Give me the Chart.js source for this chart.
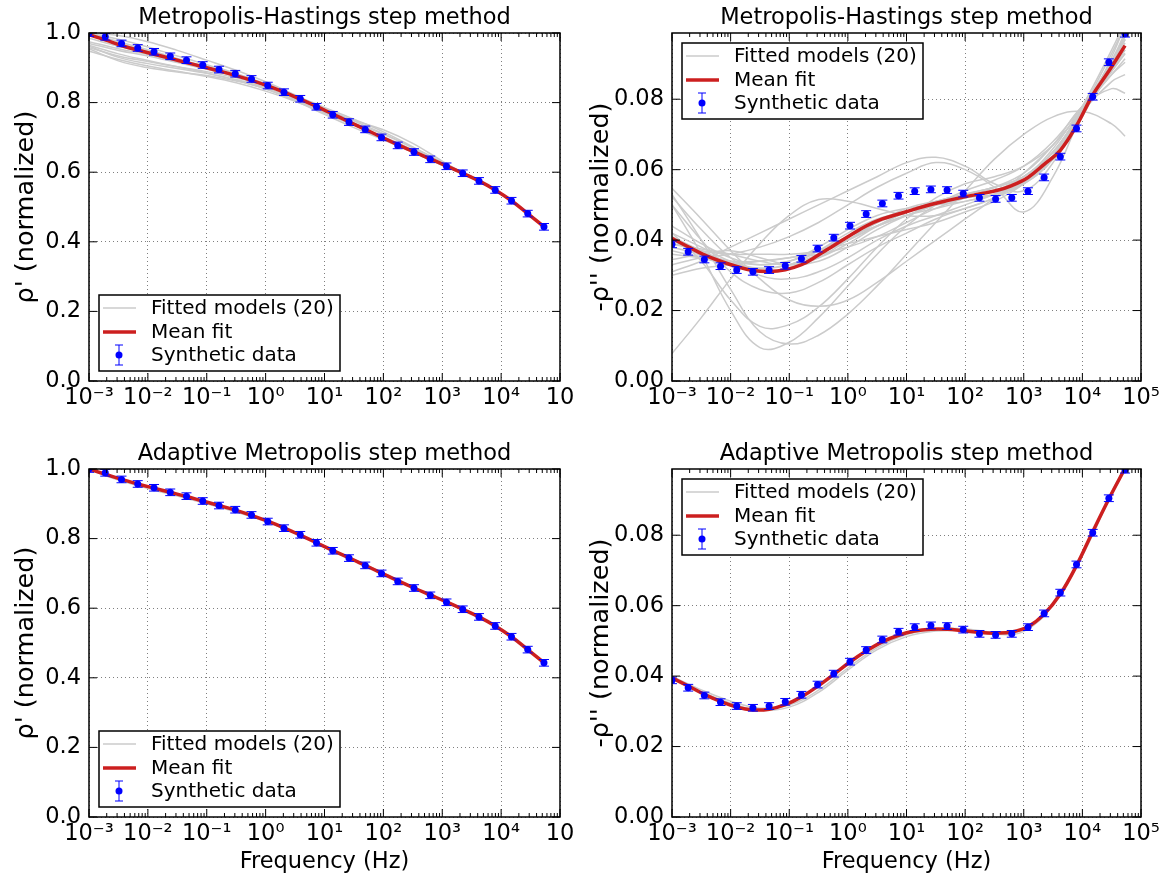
<!DOCTYPE html>
<html>
<head>
<meta charset="utf-8">
<script src="https://cdn.jsdelivr.net/npm/chart.js@4.4.1/dist/chart.umd.min.js"></script>
<style>
  body { margin: 0; background: #fff; }
  #wrap { position: relative; width: 1168px; height: 880px; overflow: hidden; }
  #wrap canvas { position: absolute; }
</style>
</head>
<body>
<div id="wrap">
  <canvas id="mhReal" width="584" height="436" style="left:0;top:0"></canvas>
  <canvas id="mhImag" width="584" height="436" style="left:584px;top:0"></canvas>
  <canvas id="amReal" width="584" height="444" style="left:0;top:436px"></canvas>
  <canvas id="amImag" width="584" height="444" style="left:584px;top:436px"></canvas>
</div>
<script>
// frequencies of the synthetic data (Hz)
const freq = [0.001, 0.001888, 0.003565, 0.00673, 0.01271, 0.02399, 0.04529, 0.08551, 0.1614, 0.3048,
  0.5754, 1.086, 2.051, 3.873, 7.311, 13.8, 26.06, 49.2, 92.9, 175.4,
  331.1, 625.2, 1180, 2228, 4207, 7943, 15000, 28310, 53460];

// synthetic data, normalized
const rhoReal = [1.000, 0.989, 0.970, 0.957, 0.946, 0.933, 0.922, 0.908, 0.895, 0.883,
  0.868, 0.849, 0.830, 0.811, 0.788, 0.765, 0.744, 0.723, 0.700, 0.677,
  0.658, 0.637, 0.617, 0.597, 0.575, 0.549, 0.518, 0.481, 0.443];
const rhoImag = [0.0388, 0.0367, 0.0345, 0.0326, 0.0315, 0.0310, 0.0315, 0.0327, 0.0347, 0.0376,
  0.0407, 0.0441, 0.0474, 0.0504, 0.0526, 0.0539, 0.0544, 0.0542, 0.0532, 0.0520,
  0.0517, 0.0520, 0.0539, 0.0578, 0.0637, 0.0717, 0.0807, 0.0905, 0.0986];
const errReal = 0.0095;
const errImag = 0.00095;

// mean fits at the data frequencies
const mhMeanReal = [0.995, 0.980, 0.964, 0.951, 0.939, 0.927, 0.915, 0.903, 0.891, 0.878,
  0.864, 0.848, 0.830, 0.810, 0.789, 0.767, 0.745, 0.723, 0.701, 0.679,
  0.659, 0.638, 0.618, 0.597, 0.575, 0.549, 0.518, 0.481, 0.443];
const mhMeanImag = [0.0405, 0.0381, 0.0358, 0.0340, 0.0325, 0.0314, 0.0311, 0.0316, 0.0330, 0.0356,
  0.0385, 0.0413, 0.0440, 0.0460, 0.0474, 0.0488, 0.0501, 0.0512, 0.0522, 0.0531,
  0.0540, 0.0555, 0.0578, 0.0615, 0.0655, 0.0725, 0.0812, 0.0880, 0.0952];
const amMeanReal = [1.000, 0.985, 0.970, 0.957, 0.945, 0.933, 0.921, 0.908, 0.895, 0.882,
  0.867, 0.850, 0.831, 0.810, 0.788, 0.766, 0.745, 0.723, 0.701, 0.679,
  0.658, 0.638, 0.618, 0.597, 0.575, 0.549, 0.518, 0.481, 0.443];
const amMeanImag = [0.0395, 0.0372, 0.0348, 0.0328, 0.0312, 0.0304, 0.0306, 0.0319, 0.0341, 0.0371,
  0.0405, 0.0440, 0.0471, 0.0497, 0.0516, 0.0528, 0.0533, 0.0533, 0.0529, 0.0524,
  0.0522, 0.0525, 0.0540, 0.0576, 0.0633, 0.0714, 0.0810, 0.0903, 0.0990];

// fitted models, sampled at these frequencies
const modelFreq = [0.001, 0.003162, 0.01, 0.03162, 0.1, 0.3162, 1, 3.162, 10, 31.62,
  100, 316.2, 1000, 3162, 10000, 31620, 53460];

const mhModelsReal = [
  [1.000, 0.982, 0.960, 0.934, 0.909, 0.884, 0.854, 0.818, 0.779, 0.740, 0.700, 0.661, 0.623, 0.585, 0.539, 0.475, 0.443],
  [0.958, 0.934, 0.918, 0.903, 0.889, 0.871, 0.849, 0.820, 0.786, 0.752, 0.716, 0.673, 0.628, 0.586, 0.538, 0.475, 0.443],
  [0.948, 0.924, 0.905, 0.890, 0.875, 0.857, 0.833, 0.804, 0.770, 0.735, 0.700, 0.661, 0.621, 0.583, 0.538, 0.476, 0.444],
  [0.962, 0.930, 0.912, 0.898, 0.884, 0.866, 0.843, 0.812, 0.779, 0.749, 0.722, 0.683, 0.632, 0.584, 0.537, 0.474, 0.443],
  [0.970, 0.950, 0.934, 0.915, 0.896, 0.875, 0.850, 0.815, 0.776, 0.741, 0.709, 0.671, 0.627, 0.586, 0.539, 0.475, 0.443],
  [0.955, 0.920, 0.900, 0.888, 0.878, 0.862, 0.840, 0.808, 0.771, 0.736, 0.702, 0.665, 0.625, 0.587, 0.540, 0.477, 0.445],
  [0.985, 0.962, 0.942, 0.920, 0.899, 0.877, 0.851, 0.819, 0.783, 0.747, 0.711, 0.670, 0.626, 0.585, 0.538, 0.475, 0.443],
  [0.993, 0.970, 0.948, 0.924, 0.901, 0.878, 0.851, 0.816, 0.776, 0.737, 0.698, 0.660, 0.623, 0.585, 0.539, 0.475, 0.443],
  [0.975, 0.955, 0.938, 0.918, 0.897, 0.876, 0.849, 0.814, 0.775, 0.737, 0.699, 0.662, 0.624, 0.586, 0.539, 0.476, 0.444],
  [1.000, 0.975, 0.952, 0.927, 0.903, 0.880, 0.852, 0.817, 0.778, 0.739, 0.699, 0.660, 0.622, 0.585, 0.539, 0.475, 0.443],
  [1.000, 0.993, 0.975, 0.950, 0.922, 0.893, 0.860, 0.822, 0.781, 0.740, 0.700, 0.660, 0.622, 0.585, 0.539, 0.475, 0.443],
  [0.965, 0.940, 0.921, 0.903, 0.885, 0.864, 0.839, 0.805, 0.766, 0.728, 0.693, 0.657, 0.620, 0.584, 0.538, 0.475, 0.443]
];
const mhModelsImag = [
  [0.0547, 0.046, 0.037, 0.029, 0.023, 0.0212, 0.023, 0.028, 0.034, 0.040, 0.046, 0.052, 0.059, 0.067, 0.077, 0.090, 0.098],
  [0.053, 0.040, 0.026, 0.014, 0.0105, 0.013, 0.019, 0.027, 0.036, 0.045, 0.054, 0.063, 0.070, 0.075, 0.0765, 0.073, 0.0695],
  [0.0078, 0.018, 0.029, 0.039, 0.047, 0.0515, 0.051, 0.049, 0.047, 0.047, 0.049, 0.052, 0.057, 0.065, 0.077, 0.091, 0.099],
  [0.050, 0.036, 0.020, 0.0095, 0.011, 0.018, 0.027, 0.036, 0.044, 0.050, 0.054, 0.057, 0.061, 0.068, 0.078, 0.088, 0.093],
  [0.042, 0.034, 0.023, 0.0155, 0.016, 0.021, 0.029, 0.038, 0.046, 0.052, 0.056, 0.058, 0.061, 0.067, 0.077, 0.087, 0.0905],
  [0.031, 0.034, 0.038, 0.042, 0.046, 0.050, 0.054, 0.058, 0.062, 0.0635, 0.061, 0.056, 0.054, 0.062, 0.077, 0.093, 0.101],
  [0.033, 0.035, 0.036, 0.038, 0.041, 0.045, 0.050, 0.055, 0.059, 0.062, 0.060, 0.055, 0.048, 0.058, 0.076, 0.090, 0.097],
  [0.036, 0.035, 0.034, 0.034, 0.035, 0.037, 0.039, 0.041, 0.043, 0.045, 0.048, 0.051, 0.056, 0.064, 0.077, 0.087, 0.0915],
  [0.039, 0.037, 0.036, 0.036, 0.036, 0.037, 0.040, 0.044, 0.048, 0.051, 0.053, 0.055, 0.058, 0.065, 0.0765, 0.085, 0.087],
  [0.030, 0.032, 0.033, 0.034, 0.035, 0.036, 0.038, 0.041, 0.045, 0.049, 0.052, 0.055, 0.059, 0.067, 0.078, 0.083, 0.0817],
  [0.0345, 0.036, 0.037, 0.035, 0.033, 0.034, 0.038, 0.043, 0.047, 0.050, 0.052, 0.054, 0.057, 0.063, 0.075, 0.092, 0.101],
  [0.0523, 0.043, 0.035, 0.030, 0.029, 0.031, 0.035, 0.040, 0.044, 0.047, 0.050, 0.053, 0.057, 0.064, 0.077, 0.089, 0.095],
  [0.041, 0.037, 0.0335, 0.0315, 0.032, 0.036, 0.041, 0.045, 0.048, 0.050, 0.052, 0.054, 0.058, 0.065, 0.076, 0.089, 0.096],
  [0.038, 0.036, 0.034, 0.033, 0.034, 0.037, 0.041, 0.044, 0.047, 0.049, 0.051, 0.053, 0.0565, 0.063, 0.0755, 0.090, 0.097],
  [0.050, 0.040, 0.031, 0.026, 0.025, 0.028, 0.033, 0.038, 0.042, 0.046, 0.049, 0.052, 0.056, 0.064, 0.078, 0.094, 0.102],
  [0.040, 0.036, 0.033, 0.031, 0.032, 0.035, 0.040, 0.045, 0.049, 0.051, 0.052, 0.054, 0.057, 0.064, 0.076, 0.088, 0.094],
  [0.042, 0.038, 0.034, 0.032, 0.033, 0.037, 0.042, 0.046, 0.048, 0.050, 0.052, 0.053, 0.056, 0.063, 0.077, 0.091, 0.098],
  [0.037, 0.035, 0.033, 0.032, 0.033, 0.036, 0.040, 0.044, 0.047, 0.050, 0.053, 0.055, 0.058, 0.065, 0.077, 0.088, 0.093],
  [0.044, 0.039, 0.035, 0.033, 0.034, 0.038, 0.043, 0.047, 0.049, 0.050, 0.051, 0.053, 0.056, 0.063, 0.076, 0.090, 0.097],
  [0.039, 0.0375, 0.036, 0.034, 0.033, 0.035, 0.039, 0.044, 0.048, 0.051, 0.053, 0.055, 0.058, 0.066, 0.078, 0.089, 0.094]
];
const amModelsReal = [
  [1.000, 0.972, 0.948, 0.925, 0.903, 0.879, 0.852, 0.818, 0.779, 0.740, 0.701, 0.661, 0.624, 0.586, 0.541, 0.476, 0.444],
  [0.998, 0.968, 0.944, 0.922, 0.900, 0.876, 0.849, 0.815, 0.776, 0.737, 0.698, 0.659, 0.622, 0.584, 0.539, 0.474, 0.442]
];
const amModelsImag = [
  [0.0399, 0.0361, 0.0329, 0.0309, 0.0318, 0.0360, 0.0423, 0.0481, 0.0518, 0.0534, 0.0534, 0.0525, 0.0533, 0.0608, 0.0748, 0.0923, 0.0994],
  [0.0391, 0.0355, 0.0323, 0.0303, 0.0312, 0.0354, 0.0417, 0.0475, 0.0512, 0.0528, 0.0528, 0.0519, 0.0527, 0.0602, 0.0742, 0.0917, 0.0986]
];

// axis ticks
const xTicks = [1e-3, 1e-2, 1e-1, 1e0, 1e1, 1e2, 1e3, 1e4, 1e5];
const xLabelsLeft = ['10⁻³', '10⁻²', '10⁻¹', '10⁰', '10¹', '10²', '10³', '10⁴', '10'];
const xLabelsRight = ['10⁻³', '10⁻²', '10⁻¹', '10⁰', '10¹', '10²', '10³', '10⁴', '10⁵'];
const minorSteps = [2, 3, 4, 5, 6, 7, 8, 9];
const yTicksReal = [0, 0.2, 0.4, 0.6, 0.8, 1.0];
const yLabelsReal = ['0.0', '0.2', '0.4', '0.6', '0.8', '1.0'];
const yTicksImag = [0, 0.02, 0.04, 0.06, 0.08];
const yLabelsImag = ['0.00', '0.02', '0.04', '0.06', '0.08'];

Chart.defaults.font.family = "'DejaVu Sans', sans-serif";
Chart.defaults.color = '#000';

const GRAY = '#cbcbcb', RED = '#cc1f1f', BLUE = '#0000ff';
const FONT = "'DejaVu Sans', sans-serif";
const FS = 22.5;

function series(xs, ys) {
    return xs.map((x, i) => ({ x: x, y: ys[i] }));
}

// matplotlib-like frame, inward ticks, title, legend and error bars
function mplPlugin(p) {
    return {
        id: 'mpl',
        beforeDatasetDraw(chart, args) {
            if (args.meta.label !== 'Synthetic data') return;
            const { ctx, chartArea: a } = chart;
            const ys = chart.scales.y;
            const vals = chart.data.datasets[args.index].data;
            ctx.save();
            ctx.beginPath();
            ctx.rect(a.left, a.top, a.width, a.height);
            ctx.clip();
            ctx.strokeStyle = BLUE;
            ctx.lineWidth = 1;
            ctx.beginPath();
            args.meta.data.forEach((pt, i) => {
                const y1 = ys.getPixelForValue(vals[i].y + p.err);
                const y2 = ys.getPixelForValue(vals[i].y - p.err);
                ctx.moveTo(pt.x, y1); ctx.lineTo(pt.x, y2);
                ctx.moveTo(pt.x - 5, y1); ctx.lineTo(pt.x + 5, y1);
                ctx.moveTo(pt.x - 5, y2); ctx.lineTo(pt.x + 5, y2);
            });
            ctx.stroke();
            ctx.restore();
        },
        afterDatasetsDraw(chart) {
            const { ctx, chartArea: a } = chart;
            const xs = chart.scales.x, ys = chart.scales.y;
            ctx.save();
            ctx.strokeStyle = '#000';
            ctx.lineWidth = 1;
            ctx.beginPath();
            xTicks.forEach((d, k) => {
                const px = xs.getPixelForValue(d);
                ctx.moveTo(px, a.bottom); ctx.lineTo(px, a.bottom - 8);
                ctx.moveTo(px, a.top); ctx.lineTo(px, a.top + 8);
                if (k === xTicks.length - 1) return;
                minorSteps.forEach(m => {
                    const mx = xs.getPixelForValue(m * d);
                    ctx.moveTo(mx, a.bottom); ctx.lineTo(mx, a.bottom - 4);
                    ctx.moveTo(mx, a.top); ctx.lineTo(mx, a.top + 4);
                });
            });
            p.yTicks.forEach(v => {
                const py = ys.getPixelForValue(v);
                ctx.moveTo(a.left, py); ctx.lineTo(a.left + 8, py);
                ctx.moveTo(a.right, py); ctx.lineTo(a.right - 8, py);
            });
            ctx.stroke();
            ctx.lineWidth = 1.5;
            ctx.strokeRect(a.left, a.top, a.right - a.left, a.bottom - a.top);

            // title
            ctx.fillStyle = '#000';
            ctx.font = FS + 'px ' + FONT;
            ctx.textAlign = 'center';
            ctx.textBaseline = 'alphabetic';
            ctx.fillText(p.title, (a.left + a.right) / 2, a.top - 9);

            // legend
            const lw = 241, lh = 76;
            const lx = a.left + 10;
            const ly = p.legendUpper ? a.top + 10 : a.bottom - 10 - lh;
            ctx.fillStyle = '#fff';
            ctx.fillRect(lx, ly, lw, lh);
            ctx.lineWidth = 1.5;
            ctx.strokeRect(lx, ly, lw, lh);
            const rows = [ly + 13, ly + 37, ly + 60];
            ctx.lineCap = 'butt';
            ctx.strokeStyle = GRAY; ctx.lineWidth = 1.5;
            ctx.beginPath(); ctx.moveTo(lx + 4, rows[0]); ctx.lineTo(lx + 37, rows[0]); ctx.stroke();
            ctx.strokeStyle = RED; ctx.lineWidth = 3.5;
            ctx.beginPath(); ctx.moveTo(lx + 4, rows[1]); ctx.lineTo(lx + 37, rows[1]); ctx.stroke();
            const ex = lx + 20;
            ctx.strokeStyle = BLUE; ctx.lineWidth = 1;
            ctx.beginPath();
            ctx.moveTo(ex, rows[2] - 10); ctx.lineTo(ex, rows[2] + 10);
            ctx.moveTo(ex - 4, rows[2] - 10); ctx.lineTo(ex + 4, rows[2] - 10);
            ctx.moveTo(ex - 4, rows[2] + 10); ctx.lineTo(ex + 4, rows[2] + 10);
            ctx.stroke();
            ctx.fillStyle = BLUE;
            ctx.beginPath(); ctx.arc(ex, rows[2], 3.5, 0, Math.PI * 2); ctx.fill();
            const names = chart.data.datasets.map(d => d.label);
            const labels = [names[0], 'Mean fit', 'Synthetic data'];
            ctx.fillStyle = '#000';
            ctx.font = '20px ' + FONT;
            ctx.textAlign = 'left';
            ctx.textBaseline = 'middle';
            labels.forEach((t, i) => ctx.fillText(t, lx + 52, rows[i] + 1));
            ctx.restore();
        }
    };
}

function drawPanel(id, p) {
    // gray models under the mean fit, data points on top
    const datasets = p.models.map(m => ({
        label: 'Fitted models (20)',
        data: series(modelFreq, m),
        borderColor: GRAY,
        borderWidth: 1.5,
        pointRadius: 0,
        tension: 0.4,
        clip: 0,
        order: 3
    }));
    datasets.push({
        label: 'Mean fit',
        data: series(freq, p.mean),
        borderColor: RED,
        borderWidth: 3.5,
        pointRadius: 0,
        tension: 0.4,
        clip: 0,
        order: 2
    });
    datasets.push({
        label: 'Synthetic data',
        data: series(freq, p.obs),
        showLine: false,
        pointRadius: 3.5,
        pointBackgroundColor: BLUE,
        pointBorderWidth: 0,
        borderColor: BLUE,
        clip: 0,
        order: 1
    });

    const gridStyle = { color: 'rgba(0,0,0,0.5)', lineWidth: 1, drawTicks: false };

    new Chart(document.getElementById(id), {
        type: 'line',
        data: { datasets: datasets },
        options: {
            responsive: false,
            animation: false,
            events: [],
            layout: { padding: { left: 0, right: p.padRight, top: 33, bottom: 0 } },
            plugins: { legend: { display: false }, tooltip: { enabled: false } },
            scales: {
                x: {
                    type: 'logarithmic',
                    min: 1e-3,
                    max: 1e5,
                    afterBuildTicks: s => { s.ticks = xTicks.map(v => ({ value: v })); },
                    afterFit: s => { s.height = p.xAxisH; },
                    ticks: {
                        autoSkip: false, maxRotation: 0, minRotation: 0, padding: 4,
                        font: { size: FS },
                        callback: (v, i) => p.xLabels[i]
                    },
                    grid: gridStyle,
                    border: { display: false, dash: [1, 3] },
                    title: {
                        display: !!p.xTitle, text: p.xTitle || '',
                        font: { size: FS }, padding: { top: 0, bottom: 4 }
                    }
                },
                y: {
                    type: 'linear',
                    min: 0,
                    max: p.yMax,
                    afterBuildTicks: s => { s.ticks = p.yTicks.map(v => ({ value: v })); },
                    afterFit: s => { s.width = p.yAxisW; },
                    ticks: {
                        padding: 8,
                        font: { size: FS },
                        callback: (v, i) => p.yLabels[i]
                    },
                    grid: gridStyle,
                    border: { display: false, dash: [1, 3] },
                    title: {
                        display: true, text: p.yTitle,
                        font: { size: 25.5 }, padding: { top: p.yTitlePad, bottom: 0 }
                    }
                }
            }
        },
        plugins: [mplPlugin(p)]
    });
}

document.addEventListener("DOMContentLoaded", () => {
    drawPanel('mhReal', {
        title: 'Metropolis-Hastings step method', yTitle: "ρ' (normalized)",
        models: mhModelsReal, mean: mhMeanReal, obs: rhoReal, err: errReal,
        yMax: 1.0, yTicks: yTicksReal, yLabels: yLabelsReal, xLabels: xLabelsLeft,
        legendUpper: false, yAxisW: 89, padRight: 24, xAxisH: 55, yTitlePad: 11
    });
    drawPanel('mhImag', {
        title: 'Metropolis-Hastings step method', yTitle: "-ρ'' (normalized)",
        models: mhModelsImag, mean: mhMeanImag, obs: rhoImag, err: errImag,
        yMax: 0.0988, yTicks: yTicksImag, yLabels: yLabelsImag, xLabels: xLabelsRight,
        legendUpper: true, yAxisW: 88, padRight: 27, xAxisH: 55, yTitlePad: 2
    });
    drawPanel('amReal', {
        title: 'Adaptive Metropolis step method', yTitle: "ρ' (normalized)",
        models: amModelsReal, mean: amMeanReal, obs: rhoReal, err: errReal,
        yMax: 1.0, yTicks: yTicksReal, yLabels: yLabelsReal, xLabels: xLabelsLeft,
        legendUpper: false, yAxisW: 89, padRight: 24, xAxisH: 63, yTitlePad: 11,
        xTitle: 'Frequency (Hz)'
    });
    drawPanel('amImag', {
        title: 'Adaptive Metropolis step method', yTitle: "-ρ'' (normalized)",
        models: amModelsImag, mean: amMeanImag, obs: rhoImag, err: errImag,
        yMax: 0.0988, yTicks: yTicksImag, yLabels: yLabelsImag, xLabels: xLabelsRight,
        legendUpper: true, yAxisW: 88, padRight: 27, xAxisH: 63, yTitlePad: 2,
        xTitle: 'Frequency (Hz)'
    });
});
</script>
</body>
</html>
